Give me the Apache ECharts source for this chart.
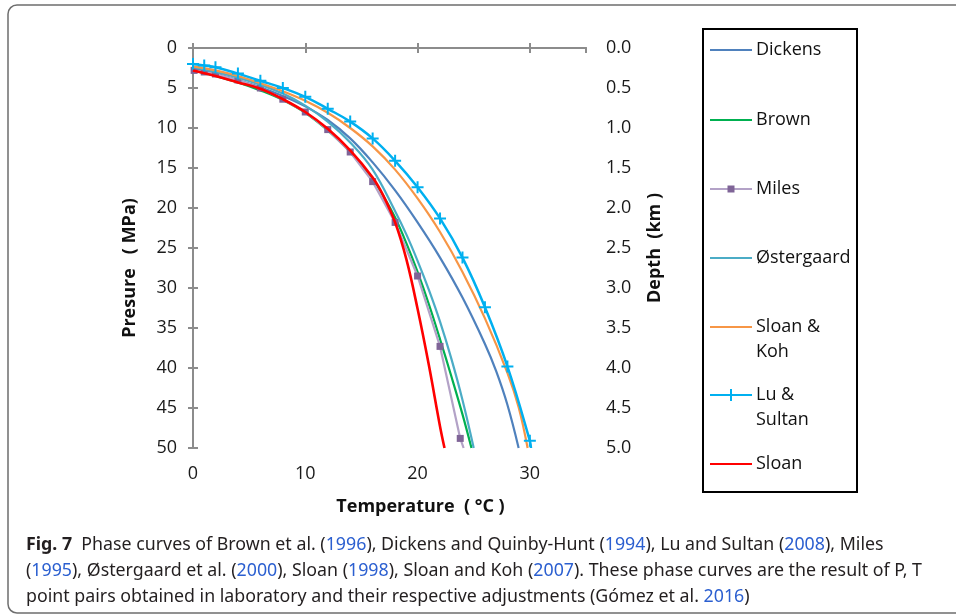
<!DOCTYPE html>
<html>
<head>
<meta charset="utf-8">
<script src="https://cdn.jsdelivr.net/npm/echarts@6/dist/echarts.min.js"></script>
<style>
  html, body { margin: 0; padding: 0; background: #fff; }
  #chart { width: 956px; height: 615px; }
</style>
</head>
<body>
<div id="chart"></div>
<script>
// series names, in drawing order
var names = ['Dickens', 'Brown', 'Miles', 'Østergaard', 'Sloan & Koh', 'Lu & Sultan', 'Sloan'];
var legendLabels = ['Dickens', 'Brown', 'Miles', 'Østergaard', 'Sloan &\nKoh', 'Lu &\nSultan', 'Sloan'];

// temperature (°C) / pressure (MPa)
var tDickens = [0, 2, 4, 6, 8, 10, 12, 14, 16, 18, 20, 22, 24, 26, 27, 28, 29];
var pDickens = [2.5, 3.2, 4.0, 4.9, 6.0, 7.3, 9.0, 11.3, 14.3, 17.8, 21.8, 26.2, 31.2, 37.0, 40.4, 44.6, 50.0];

var tBrown = [0, 2, 4, 6, 8, 10, 12, 14, 16, 17, 18, 19, 20, 21, 22, 23, 24, 24.8];
var pBrown = [2.8, 3.5, 4.3, 5.3, 6.5, 8.1, 10.3, 13.0, 16.4, 18.6, 21.2, 24.4, 28.0, 32.0, 36.4, 41.0, 45.8, 50.0];

// measured points; the last point is where the line leaves the plot (no marker)
var tMiles = [0.1, 1, 2, 4, 6, 8, 10, 12, 14, 16, 18, 20, 22, 23.8, 24.1];
var pMiles = [2.8, 3.0, 3.25, 4.0, 5.0, 6.4, 8.0, 10.2, 13.0, 16.7, 21.8, 28.5, 37.3, 48.8, 50.0];

var tOster = [0, 2, 4, 6, 8, 10, 12, 14, 16, 18, 19, 20, 21, 22, 23, 24, 25.0];
var pOster = [2.4, 3.0, 3.7, 4.6, 5.7, 7.2, 9.2, 11.8, 15.2, 20.4, 23.3, 26.6, 30.2, 34.2, 38.8, 44.0, 50.0];

var tSloanKoh = [0, 2, 4, 6, 8, 10, 12, 14, 16, 18, 20, 22, 24, 26, 28, 29, 29.8];
var pSloanKoh = [2.3, 2.8, 3.5, 4.4, 5.4, 6.6, 8.1, 10.0, 12.3, 15.2, 18.8, 23.0, 28.0, 33.8, 40.6, 44.9, 50.0];

var tLuSultan = [0, 1, 2, 4, 6, 8, 10, 12, 14, 16, 18, 20, 22, 24, 26, 28, 30, 30.1];
var pLuSultan = [2.0, 2.2, 2.4, 3.2, 4.1, 5.0, 6.1, 7.6, 9.2, 11.3, 14.1, 17.4, 21.3, 26.2, 32.4, 39.8, 49.1, 50.0];

var tSloan = [0, 2, 4, 6, 8, 10, 12, 14, 16, 17, 18, 19, 20, 21, 22, 22.4];
var pSloan = [2.8, 3.5, 4.3, 5.1, 6.4, 8.0, 10.1, 12.8, 16.2, 18.6, 21.8, 26.4, 32.6, 39.6, 47.3, 50.0];

var colors = ['#4F81BD', '#00B050', '#B3A2C7', '#4BACC6', '#F79646', '#00B0F0', '#FF0000'];
var markerColor = '#7F6497';

var tempTicks = [0, 35, 10];     // min, max, interval
var presTicks = [0, 50, 5];
var depthTicks = [0, 5, 0.5];

function pairs(t, p, endOpen) {
  return t.map(function (v, i) {
    if (endOpen && i === t.length - 1) {
      return { value: [v, p[i]], symbol: 'none' };
    }
    return [v, p[i]];
  });
}

var myChart = echarts.init(document.getElementById('chart'));

var axisGray = '#8c8c8c';
var labelFont = { fontSize: 18, color: '#1a1a1a', fontFamily: 'Open Sans' };
var plus = 'path://M5,0h2v5h5v2h-5v5h-2v-5h-5v-2h5z';

var lines = [
  { t: tDickens, p: pDickens, w: 2.2 },
  { t: tBrown, p: pBrown, w: 2.2 },
  { t: tMiles, p: pMiles, w: 2.2, smooth: false, symbol: 'rect', size: 7 },
  { t: tOster, p: pOster, w: 2.2 },
  { t: tSloanKoh, p: pSloanKoh, w: 2.2 },
  { t: tLuSultan, p: pLuSultan, w: 2.5, symbol: plus, size: 12 },
  { t: tSloan, p: pSloan, w: 2.6 }
];

var series = lines.map(function (s, i) {
  return {
    name: names[i],
    type: 'line',
    data: pairs(s.t, s.p, !!s.symbol),
    smooth: s.smooth === false ? false : 0.4,
    symbol: s.symbol || 'none',
    symbolSize: s.size || 0,
    showSymbol: !!s.symbol,
    lineStyle: { color: colors[i], width: s.w },
    itemStyle: { color: i === 2 ? markerColor : colors[i] },
    z: 2 + i
  };
});

// legend box drawn by hand (first text line sits next to the sample line)
var legendY = [50, 120, 189, 258, 327, 395, 464];
var legendGraphics = [{
  type: 'rect',
  shape: { x: 703, y: 29, width: 154, height: 463 },
  style: { fill: '#fff', stroke: '#000', lineWidth: 2 }
}];
names.forEach(function (n, i) {
  var y = legendY[i];
  legendGraphics.push({
    type: 'line',
    shape: { x1: 710, y1: y, x2: 752, y2: y },
    style: { stroke: colors[i], lineWidth: 2.2 }
  });
  if (i === 2) {
    legendGraphics.push({
      type: 'rect',
      shape: { x: 727.5, y: y - 3.5, width: 7, height: 7 },
      style: { fill: markerColor }
    });
  }
  if (i === 5) {
    legendGraphics.push({
      type: 'line', shape: { x1: 731, y1: y - 6, x2: 731, y2: y + 6 },
      style: { stroke: colors[i], lineWidth: 2 }
    });
  }
  legendGraphics.push({
    type: 'text',
    x: 756, y: y - 13,
    style: {
      text: legendLabels[i],
      font: '18px "Open Sans"',
      fill: '#111',
      lineHeight: 25,
      textVerticalAlign: 'top'
    }
  });
});

// caption
var blue = '#2b5fd0';
var capFont = 'Noto Sans';
var capSize = 17.8;
var capRich = {
  b: { fontWeight: 'bold', fontSize: capSize, fontFamily: capFont, fill: '#231f20' },
  n: { fontSize: capSize, fontFamily: capFont, fill: '#231f20' },
  y: { fontSize: capSize, fontFamily: capFont, fill: blue }
};
var capLines = [
  '{b|Fig. 7}{n|  Phase curves of Brown et al. (}{y|1996}{n|), Dickens and Quinby-Hunt (}{y|1994}{n|), Lu and Sultan (}{y|2008}{n|), Miles}',
  '{n|(}{y|1995}{n|), Østergaard et al. (}{y|2000}{n|), Sloan (}{y|1998}{n|), Sloan and Koh (}{y|2007}{n|). These phase curves are the result of P, T}',
  '{n|point pairs obtained in laboratory and their respective adjustments (Gómez et al. }{y|2016}{n|)}'
];
var capGraphics = capLines.map(function (txt, i) {
  return {
    type: 'text',
    x: 26, y: 545 + i * 26,
    style: { text: txt, rich: capRich, textVerticalAlign: 'middle' }
  };
});

var frame = {
  type: 'rect',
  shape: { x: 8, y: 5, width: 970, height: 608, r: 9 },
  style: { fill: 'none', stroke: '#6e6e6e', lineWidth: 1.5 },
  z: -1
};

var option = {
  animation: false,
  backgroundColor: '#fff',
  grid: { left: 193, top: 48, width: 393, height: 400 },
  xAxis: [
    {
      type: 'value', position: 'bottom',
      min: tempTicks[0], max: tempTicks[1], interval: tempTicks[2],
      axisLine: { lineStyle: { color: axisGray, width: 2 } },
      axisTick: { inside: true, length: 5, lineStyle: { color: axisGray, width: 2 } },
      axisLabel: Object.assign({ margin: 17, showMaxLabel: false }, labelFont),
      splitLine: { show: false },
      name: 'Temperature  ( °C )',
      nameLocation: 'middle', nameGap: 50,
      nameTextStyle: { fontSize: 18, fontWeight: 'bold', color: '#111', fontFamily: 'Open Sans', padding: [0, 0, 0, 62] }
    },
    {
      type: 'value', position: 'top',
      min: tempTicks[0], max: tempTicks[1], interval: tempTicks[2],
      axisLine: { lineStyle: { color: axisGray, width: 2 } },
      axisTick: { inside: true, length: 5, lineStyle: { color: axisGray, width: 2 } },
      axisLabel: { show: false },
      splitLine: { show: false }
    }
  ],
  yAxis: [
    {
      type: 'value', position: 'left', inverse: true,
      min: presTicks[0], max: presTicks[1], interval: presTicks[2],
      axisLine: { lineStyle: { color: axisGray, width: 2 } },
      axisTick: { inside: true, length: 5, lineStyle: { color: axisGray, width: 2 } },
      axisLabel: Object.assign({ margin: 16 }, labelFont),
      splitLine: { show: false },
      name: 'Presure   ( MPa)',
      nameLocation: 'middle', nameGap: 54, nameRotate: 90,
      nameTextStyle: { fontSize: 18, fontWeight: 'bold', color: '#111', fontFamily: 'Open Sans', padding: [0, 40, 0, 0] }
    },
    {
      type: 'value', position: 'right', inverse: true,
      min: depthTicks[0], max: depthTicks[1], interval: depthTicks[2],
      axisLine: { lineStyle: { color: axisGray, width: 2 } },
      axisTick: { inside: true, length: 5, lineStyle: { color: axisGray, width: 2 } },
      axisLabel: Object.assign({ margin: 20, formatter: function (v) { return v.toFixed(1); } }, labelFont),
      splitLine: { show: false },
      name: 'Depth  (km )',
      nameLocation: 'middle', nameGap: 60, nameRotate: 90,
      nameTextStyle: { fontSize: 18, fontWeight: 'bold', color: '#111', fontFamily: 'Open Sans' }
    }
  ],
  series: series,
  graphic: [frame].concat(legendGraphics, capGraphics)
};

myChart.setOption(option);
</script>
</body>
</html>
